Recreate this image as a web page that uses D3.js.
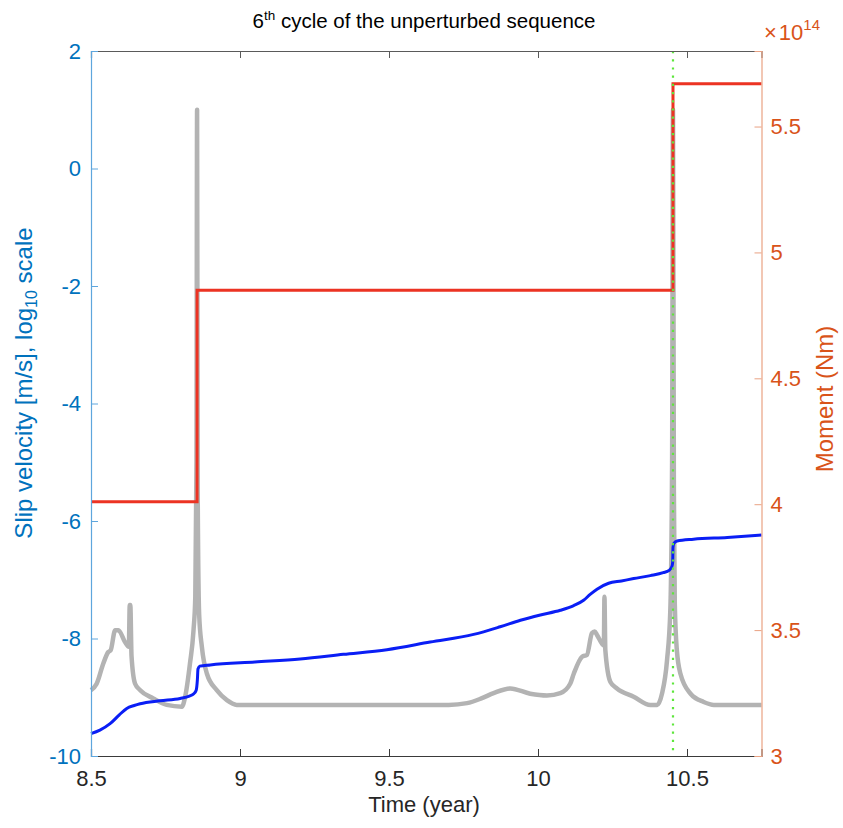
<!DOCTYPE html>
<html>
<head>
<meta charset="utf-8">
<script src="https://cdn.jsdelivr.net/npm/d3@7"></script>
<style>
  body { margin: 0; background: #fff; }
  svg { display: block; font-family: "Liberation Sans", Arial, Helvetica, sans-serif; }
</style>
</head>
<body>
<svg id="chart" width="843" height="828"></svg>
<script>
// ---- Data ----
const titleMain = "cycle of the unperturbed sequence";
const xTicks = [8.5, 9, 9.5, 10, 10.5];
const leftTicks = [-10, -8, -6, -4, -2, 0, 2];
const rightTicks = [3, 3.5, 4, 4.5, 5, 5.5];

// slip velocity (log10 m/s), gray
const slipT = [8.5, 8.519, 8.541, 8.558, 8.566, 8.581, 8.592, 8.614, 8.627, 8.630, 8.632, 8.636, 8.648, 8.665, 8.709, 8.754, 8.805, 8.816, 8.832, 8.844, 8.850, 8.854, 8.856, 8.858, 8.863, 8.872, 8.889, 8.922, 8.956, 8.989, 9.70, 9.762, 9.81, 9.851, 9.907, 9.974, 10.03, 10.075, 10.108, 10.12, 10.148, 10.164, 10.181, 10.19, 10.198, 10.215, 10.221, 10.223, 10.226, 10.243, 10.265, 10.321, 10.377, 10.40, 10.416, 10.433, 10.444, 10.450, 10.453, 10.456, 10.459, 10.466, 10.478, 10.512, 10.556, 10.59, 10.75];
const slipV = [-8.88, -8.77, -8.43, -8.23, -8.20, -7.86, -7.86, -8.06, -8.14, -7.43, -7.43, -8.3, -8.77, -8.88, -9.02, -9.13, -9.16, -8.99, -8.43, -7.86, -7.29, -5.0, 1.0, -5.5, -7.6, -8.14, -8.6, -8.88, -9.05, -9.13, -9.13, -9.10, -9.02, -8.93, -8.85, -8.94, -8.97, -8.93, -8.77, -8.6, -8.31, -8.28, -7.91, -7.88, -7.94, -8.09, -8.12, -7.29, -8.2, -8.74, -8.85, -8.99, -9.13, -9.13, -8.94, -8.37, -7.52, -5.0, 1.0, -5.5, -7.4, -8.2, -8.6, -8.94, -9.08, -9.13, -9.13];

// blue curve (left axis)
const blueT = [8.5, 8.53, 8.564, 8.595, 8.62, 8.645, 8.665, 8.732, 8.799, 8.83, 8.845, 8.853, 8.857, 8.859, 8.865, 8.9, 9.05, 9.202, 9.347, 9.493, 9.638, 9.784, 9.873, 9.941, 10.008, 10.075, 10.12, 10.153, 10.175, 10.198, 10.237, 10.28, 10.321, 10.377, 10.42, 10.44, 10.449, 10.452, 10.453, 10.456, 10.467, 10.522, 10.635, 10.75];
const blueV = [-9.62, -9.56, -9.45, -9.30, -9.19, -9.14, -9.11, -9.06, -9.02, -8.98, -8.94, -8.88, -8.70, -8.52, -8.47, -8.45, -8.40, -8.35, -8.27, -8.19, -8.06, -7.93, -7.80, -7.69, -7.60, -7.52, -7.44, -7.35, -7.25, -7.16, -7.06, -7.02, -6.98, -6.93, -6.88, -6.84, -6.78, -6.70, -6.45, -6.38, -6.34, -6.31, -6.28, -6.24];

// moment (x1e14 Nm), red step
const momentT = [8.5, 8.856, 10.453, 10.75];
const momentV = [4.01, 4.85, 5.67, 5.67];

// event marker
const eventT = [10.453];

// ---- Layout ----
const svg = d3.select("#chart");
const L = 91, R = 761.5, T = 51, B = 756;
const leftColor = "#0072BD", rightColor = "#D95319";
const tickFont = 22, labelFont = 24;

const x = d3.scaleLinear().domain([8.5, 10.75]).range([L, R]);
const yL = d3.scaleLinear().domain([-10, 2]).range([B, T]);
const yR = d3.scaleLinear().domain([3, 5.8]).range([B, T]);

const g = svg.append("g");

// gray slip velocity
g.append("path")
  .datum(slipT.map((t, i) => [t, slipV[i]]))
  .attr("fill", "none").attr("stroke", "#b3b3b3").attr("stroke-width", 4.5)
  .attr("stroke-linejoin", "round")
  .attr("d", d3.line().x(d => x(d[0])).y(d => yL(d[1])).curve(d3.curveMonotoneX));

// blue curve
g.append("path")
  .datum(blueT.map((t, i) => [t, blueV[i]]))
  .attr("fill", "none").attr("stroke", "#0a1ef5").attr("stroke-width", 3)
  .attr("stroke-linejoin", "round")
  .attr("d", d3.line().x(d => x(d[0])).y(d => yL(d[1])).curve(d3.curveMonotoneX));

// red moment step
g.append("path")
  .datum(momentT.map((t, i) => [t, momentV[i]]))
  .attr("fill", "none").attr("stroke", "#ec3323").attr("stroke-width", 3)
  .attr("d", d3.line().x(d => x(d[0])).y(d => yR(d[1])).curve(d3.curveStepAfter));

// green dotted event line
eventT.forEach(t => {
  g.append("line")
    .attr("x1", x(t)).attr("x2", x(t)).attr("y1", T).attr("y2", B)
    .attr("stroke", "#5ee63c").attr("stroke-width", 2.2)
    .attr("stroke-dasharray", "2.2,6");
});

// ---- Axes ----
const tickLen = 7;
// bottom axis
const xAxisG = svg.append("g").attr("transform", `translate(0,${B})`)
  .call(d3.axisBottom(x).tickValues(xTicks).tickSize(-tickLen).tickPadding(14).tickFormat(d3.format("")));
xAxisG.select(".domain").attr("stroke", "#3a3a3a").attr("stroke-width", 1.2);
xAxisG.selectAll(".tick line").attr("stroke", "#3a3a3a");
xAxisG.selectAll("text").attr("font-size", tickFont).attr("fill", "#262626");

// top border with ticks
const xTopG = svg.append("g").attr("transform", `translate(0,${T})`)
  .call(d3.axisTop(x).tickValues(xTicks).tickSize(-tickLen).tickFormat(""));
xTopG.select(".domain").attr("stroke", "#5a5a5a").attr("stroke-width", 1.2);
xTopG.selectAll(".tick line").attr("stroke", "#5a5a5a");

// left axis
const yLG = svg.append("g").attr("transform", `translate(${L},0)`)
  .call(d3.axisLeft(yL).tickValues(leftTicks).tickSize(-tickLen).tickPadding(10).tickFormat(d3.format("")));
yLG.select(".domain").attr("stroke", "#5ea6dd").attr("stroke-width", 1.2);
yLG.selectAll(".tick line").attr("stroke", "#5ea6dd");
yLG.selectAll("text").attr("font-size", tickFont).attr("fill", leftColor).text(d => String(d));

// right axis
const yRG = svg.append("g").attr("transform", `translate(${R},0)`)
  .call(d3.axisRight(yR).tickValues(rightTicks).tickSize(-tickLen).tickPadding(9).tickFormat(d3.format("")));
yRG.select(".domain").attr("stroke", "#e9a283").attr("stroke-width", 1.2);
yRG.selectAll(".tick line").attr("stroke", "#e9a283");
yRG.selectAll("text").attr("font-size", tickFont).attr("fill", rightColor);

// exponent label
const expT = svg.append("text").attr("x", 764).attr("y", 40)
  .attr("font-size", tickFont).attr("fill", rightColor);
expT.append("tspan").text("\u00d7");
expT.append("tspan").attr("dx", 2).text("10");
expT.append("tspan").attr("dy", -10).attr("font-size", 15).text("14");

// title
const title = svg.append("text").attr("x", 424).attr("y", 28)
  .attr("text-anchor", "middle").attr("font-size", 20.5).attr("fill", "#000");
title.append("tspan").text("6");
title.append("tspan").attr("dy", -8).attr("font-size", 13.5).text("th");
title.append("tspan").attr("dy", 8).text(" " + titleMain);

// x label
svg.append("text").attr("x", 424).attr("y", 812)
  .attr("text-anchor", "middle").attr("font-size", 22).attr("fill", "#262626")
  .text("Time (year)");

// left y label
const yl = svg.append("text")
  .attr("transform", `translate(32,383) rotate(-90)`)
  .attr("text-anchor", "middle").attr("font-size", labelFont).attr("fill", leftColor);
yl.append("tspan").text("Slip velocity [m/s], log");
yl.append("tspan").attr("dy", 5).attr("font-size", 16).text("10");
yl.append("tspan").attr("dy", -5).text(" scale");

// right y label
svg.append("text")
  .attr("transform", `translate(833,399) rotate(-90)`)
  .attr("text-anchor", "middle").attr("font-size", labelFont).attr("fill", rightColor)
  .text("Moment (Nm)");
</script>
</body>
</html>
